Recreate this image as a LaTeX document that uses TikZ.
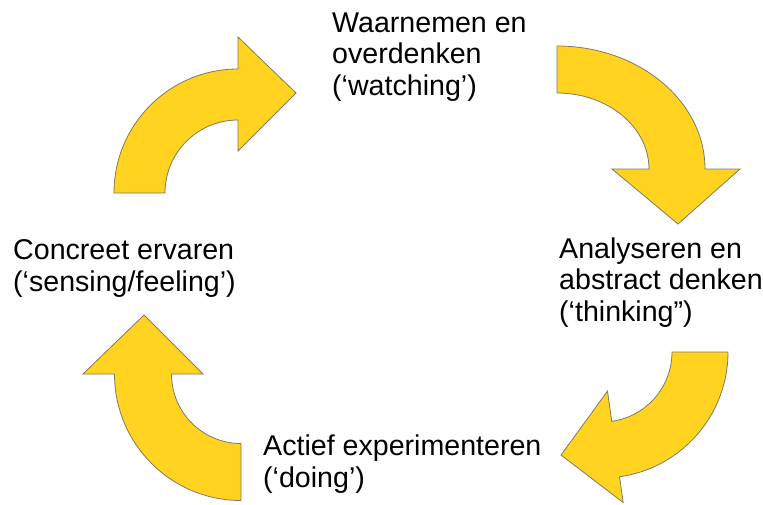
\documentclass[tikz,border=0pt]{standalone}
\usepackage{fontspec}
\setmainfont{Liberation Sans}
\usetikzlibrary{positioning,calc}
\definecolor{arrowGold}{RGB}{255,211,32}
\definecolor{arrowEdge}{RGB}{128,122,100}
\tikzset{cycleArrow/.style={fill=arrowGold,draw=arrowEdge,line width=0.8pt,line join=miter},
		stageLabel/.style={anchor=base west,inner sep=0pt,align=left,text=black,
		                   font=\fontsize{28.6}{31.5}\selectfont}}

\begin{document}
\begin{tikzpicture}[x=1pt,y=-1pt]
\useasboundingbox (0,0) rectangle (763,504);
\coordinate (cA) at (238,193);
\coordinate (cB) at (557,169);
\coordinate (cC) at (602,352);
\coordinate (cD) at (241,374);
% arrows round the cycle
\draw[cycleArrow] ($(cA)+(180:124)$) arc[start angle=180,end angle=270,radius=124]
		-- ($(cA)+(270:156)$) -- (296,93) -- ($(cA)+(270:42)$) -- ($(cA)+(270:73)$)
		arc[start angle=270,end angle=180,radius=73] -- cycle;
\draw[cycleArrow] (557,46) arc[start angle=270,end angle=360,x radius=148,y radius=123]
		-- (740,169) -- (678,224) -- (612,169) -- (649,169)
		arc[start angle=360,end angle=270,x radius=92,y radius=76] -- cycle;
\draw[cycleArrow] ($(cC)+(0:126)$) arc[start angle=0,end angle=82,radius=126]
		-- ($(cC)+(82:152)$) -- (561,455) -- ($(cC)+(82:39.5)$) -- ($(cC)+(82:70)$)
		arc[start angle=82,end angle=0,radius=70] -- cycle;
\draw[cycleArrow] ($(cD)+(90:126.5)$) arc[start angle=90,end angle=180,radius=126.5]
		-- (83,374) -- (144,315) -- (203,374) -- ($(cD)+(180:69.5)$)
		arc[start angle=180,end angle=90,radius=69.5] -- cycle;
% stages (base = last line)
\node[stageLabel] (watching) at (332,95) {Waarnemen en\\overdenken\\(‘watching’)};
\node[stageLabel] (thinking) at (559,321) {Analyseren en\\abstract denken\\(‘thinking”)};
\node[stageLabel] (doing) at (263,487) {Actief experimenteren\\(‘doing’)};
\node[stageLabel] (feeling) at (13,291) {Concreet ervaren\\(‘sensing/feeling’)};
\end{tikzpicture}
\end{document}
